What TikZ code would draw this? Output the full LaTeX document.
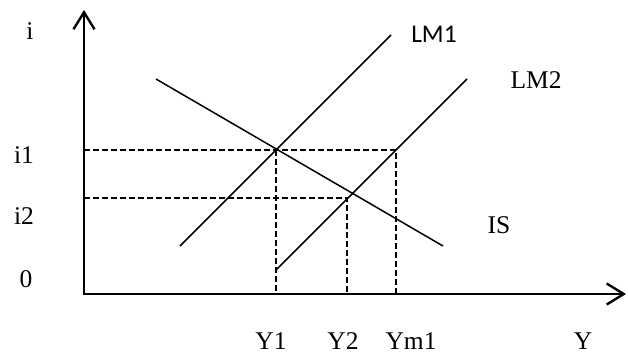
\documentclass[tikz,border=0pt]{standalone}
\usepackage{fontspec}
\setmainfont{Liberation Serif}
\newfontfamily\calib{Carlito}
\usetikzlibrary{arrows.meta}
\begin{document}
\begin{tikzpicture}[x=1pt,y=-1pt,
  axisline/.style={line width=2.4pt, line join=miter},
  curve/.style={line width=1.5pt},
  guide/.style={line width=1.3pt, dash pattern=on 5.5pt off 3.5pt},
  lbl/.style={inner sep=0pt, anchor=base, font=\fontsize{25.5}{30}\selectfont},
  axtip/.tip={Straight Barb[length=17pt, width=21pt, line width=2.4pt]}]
\useasboundingbox (0,0) rectangle (628,354);
\fill[white] (0,0) rectangle (628,354);
% coordinates
\coordinate (O) at (84,294);
\coordinate (ytop) at (84,10);
\coordinate (xend) at (626,294);
\coordinate (isA) at (156,79);
\coordinate (isB) at (443,246);
\coordinate (lm1A) at (180,246);
\coordinate (lm1B) at (391,35);
\coordinate (lm2A) at (276,270);
\coordinate (lm2B) at (467,79);
\coordinate (i1L) at (84,150);
\coordinate (E1) at (276,150);
\coordinate (M1) at (396,150);
\coordinate (i2L) at (84,198);
\coordinate (E2) at (347,198);
\coordinate (Y1b) at (276,294);
\coordinate (Y2b) at (347,294);
\coordinate (Ym1b) at (396,294);
% guides
\draw[guide] (i1L) -- (M1) -- (Ym1b);
\draw[guide] (E1) -- (Y1b);
\draw[guide] (i2L) -- (E2) -- (Y2b);
% curves
\draw[curve] (isA) -- (isB);
\draw[curve] (lm1A) -- (lm1B);
\draw[curve] (lm2A) -- (lm2B);
% axes
\draw[axisline, axtip-axtip] (ytop) -- (O) -- (xend);
% labels
\node[lbl] (li) at (30,39) {i};
\node[lbl] (li1) at (24,163) {i1};
\node[lbl] (li2) at (24,224) {i2};
\node[lbl] (l0) at (26,287) {0};
\node[lbl] (lY1) at (271,349) {Y1};
\node[lbl] (lY2) at (343,349) {Y2};
\node[lbl] (lYm1) at (411,349) {Ym1};
\node[lbl] (lY) at (583,349) {Y};
\node[lbl] (lIS) at (499,233) {IS};
\node[lbl] (lLM2) at (536,88) {LM2};
\node[lbl, font=\calib\fontsize{25.5}{30}\selectfont] (lLM1) at (434,42) {LM1};
\end{tikzpicture}
\end{document}
